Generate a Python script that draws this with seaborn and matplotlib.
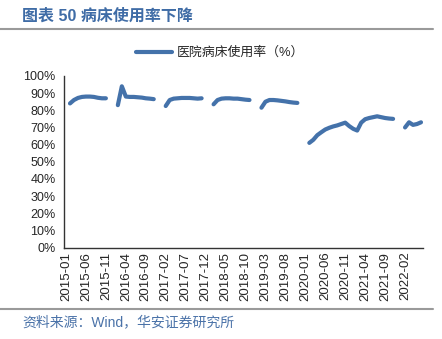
import numpy as np
import pandas as pd
import matplotlib
matplotlib.use("Agg")
import matplotlib.pyplot as plt
import seaborn as sns
from matplotlib.lines import Line2D

sns.set_style("white")
plt.rcParams['font.family'] = ['Liberation Sans', 'Noto Sans CJK SC', 'DejaVu Sans']

months = [str(p) for p in pd.period_range('2015-01', '2022-06', freq='M')]
nan = np.nan
occupancy = [
    nan, 84.0, 86.0, 87.2, 87.8, 88.0, 88.0, 87.8, 87.3, 87.0, 87.0, nan,   # 2015
    nan, 83.0, 94.0, 88.0, 87.8, 87.8, 87.6, 87.4, 87.0, 86.8, 86.5, nan,   # 2016
    nan, 82.5, 86.0, 86.8, 87.0, 87.2, 87.2, 87.2, 87.0, 86.8, 87.0, nan,   # 2017
    nan, 83.5, 86.0, 86.8, 87.0, 87.0, 86.8, 86.8, 86.5, 86.2, 86.0, nan,   # 2018
    nan, 81.5, 85.0, 86.0, 86.0, 85.8, 85.5, 85.2, 84.8, 84.5, 84.3, nan,   # 2019
    nan, 61.0, 62.8, 65.5, 67.2, 68.8, 69.8, 70.6, 71.2, 72.0, 72.8, 70.8,  # 2020
    69.2, 68.2, 72.8, 74.8, 75.5, 76.0, 76.5, 76.0, 75.5, 75.2, 75.0, nan,  # 2021
    nan, 70.0, 73.0, 71.5, 72.0, 73.0,                                      # 2022
]
series_name = "医院病床使用率（%）"
title_text = "图表 50 病床使用率下降"
source_text = "资料来源：Wind，华安证券研究所"

df = pd.DataFrame({"month": months, "value": occupancy})
df["idx"] = np.arange(len(df))
df["seg"] = df["value"].isna().cumsum()
df = df.dropna()

blue = "#4472AA"
fig = plt.figure(figsize=(4.42, 3.39), dpi=100)
ax = fig.add_axes([64/442, 1-247.5/339, (423-64)/442, (247.5-76)/339])

sns.lineplot(data=df, x="idx", y="value", units="seg", estimator=None,
             color=blue, lw=3, ax=ax, legend=False, solid_capstyle='round')

ax.set_xlim(-0.5, len(months) - 0.5)
ax.set_ylim(0, 100)
yt = np.arange(0, 101, 10)
ax.set_yticks(yt)
ax.set_yticklabels([f"{v}%" for v in yt], fontsize=9)
lab_pos = np.arange(0, len(months), 5)
ax.set_xticks(lab_pos)
ax.set_xticklabels([months[i] for i in lab_pos], rotation=90, fontsize=9.5)
ax.set_xticks(np.arange(-0.5, len(months), 5), minor=True)
ax.tick_params(axis='x', which='major', length=0, pad=3)
ax.tick_params(axis='x', which='minor', length=4, width=1, color='#333333', direction='out')
ax.tick_params(axis='y', length=4, width=1, color='#333333', direction='out', pad=2)
ax.set_xlabel("")
ax.set_ylabel("")
for s in ['top', 'right']:
    ax.spines[s].set_visible(False)
for s in ['left', 'bottom']:
    ax.spines[s].set_color('#333333')
    ax.spines[s].set_linewidth(1)
ax.grid(False)

fig.text(22/442, 1-16/339, title_text, fontsize=11.5, fontweight='bold', color='#3F6CA6',
         va='center', ha='left')
fig.add_artist(Line2D([0, 433/442], [1-29/339, 1-29/339], color='#9A9A9A', lw=1.5))
fig.add_artist(Line2D([0, 433/442], [1-309/339, 1-309/339], color='#9A9A9A', lw=1.5))
fig.text(22/442, 1-322/339, source_text, fontsize=10, color='#4A72A8', va='center', ha='left')

handle = Line2D([], [], color=blue, lw=3, solid_capstyle='round')
fig.legend([handle], [series_name], loc='center', bbox_to_anchor=(220/442, 1-53/339),
           frameon=False, fontsize=9.3, handlelength=2.8, handletextpad=0.4)

fig.savefig("out.png", dpi=100)
